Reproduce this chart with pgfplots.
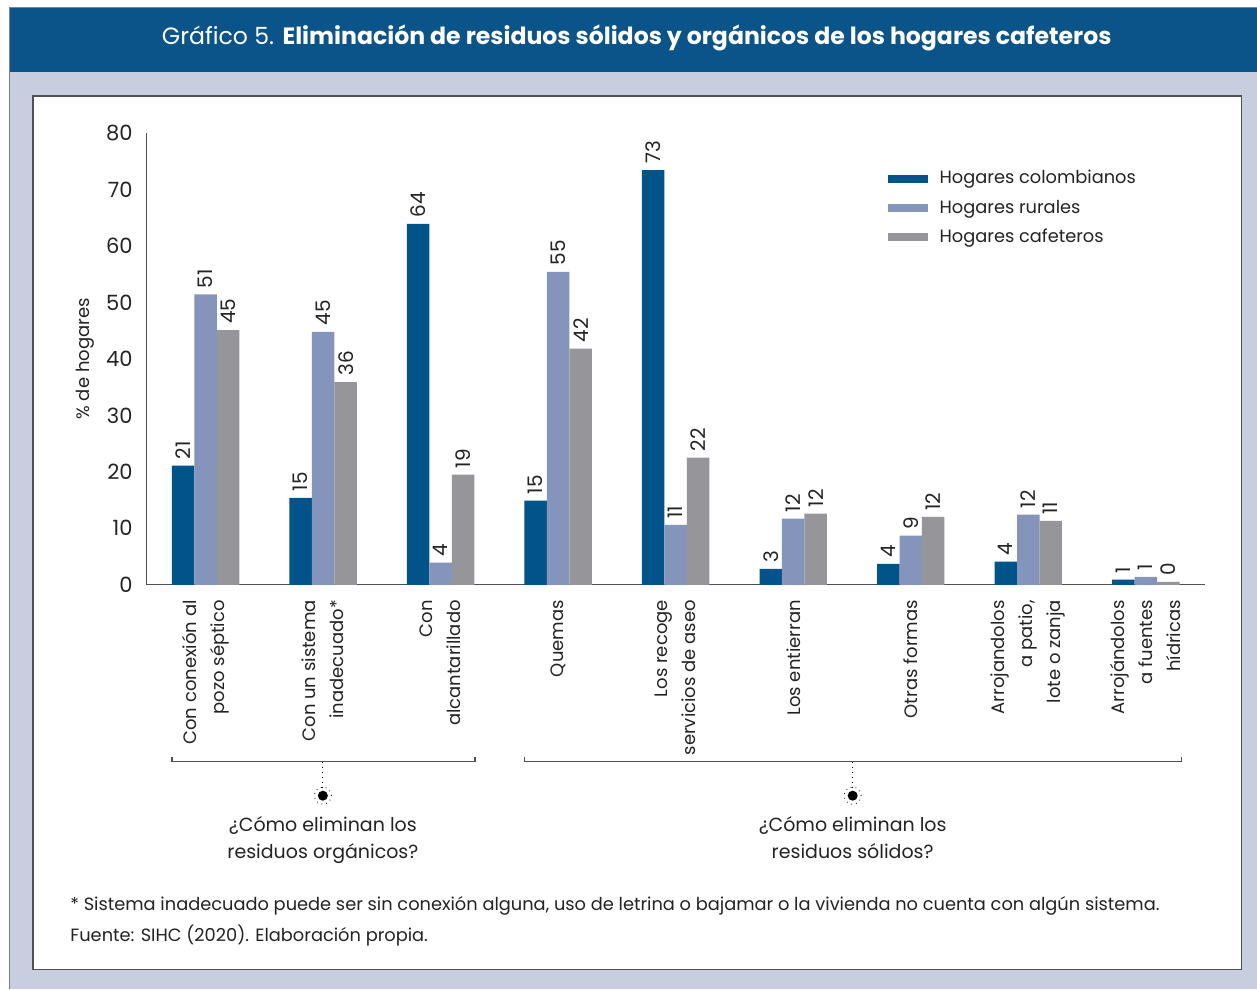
\documentclass[border=0pt]{standalone}
\usepackage{fontspec}
\setmainfont{Poppins}
\usepackage{pgfplots}
\pgfplotsset{compat=1.18}
\definecolor{barA}{RGB}{0,84,138}
\definecolor{barB}{RGB}{133,148,186}
\definecolor{barC}{RGB}{150,150,154}
\definecolor{titlebg}{RGB}{11,84,137}
\definecolor{panelbg}{RGB}{200,205,224}
\definecolor{axisgray}{RGB}{80,80,80}
\definecolor{txt}{RGB}{35,35,35}
\begin{document}
\color{txt}
\begin{tikzpicture}
% marco (coordenadas en px de la imagen, origen en la esquina del eje)
\begin{scope}[x=0.5pt,y=0.5pt,shift={(-73.5pt,-202pt)}]
\fill[white] (0,0) rectangle (1257,989);
\fill[panelbg] (10,0) rectangle (1257,917);
\fill[titlebg] (10,917) rectangle (1257,981);
\draw[gray, line width=0.5pt] (10,0) -- (10,981) -- (1257,981);
\filldraw[fill=white, draw=axisgray, line width=0.6pt] (33,19) rectangle (1242,893);
\node[white, font=\fontsize{11.8}{14}\selectfont] at (637,951)
  {Gráfico 5. \textbf{Eliminación de residuos sólidos y orgánicos de los hogares cafeteros}};
\end{scope}

\begin{axis}[
  at={(0,0)}, anchor=south west, scale only axis,
  width=529pt, height=226pt,
  ybar=0pt, bar width=11.25pt,
  xmin=-0.5, xmax=8.5, ymin=0, ymax=80,
  enlargelimits=false,
  axis x line*=bottom, axis y line*=left,
  axis line style={draw=axisgray, line width=0.5pt},
  major tick length=0pt,
  ytick={0,10,...,80},
  /pgf/number format/assume math mode=true,
  yticklabel style={inner sep=0pt, font=\fontsize{10.5}{12}\selectfont},
  yticklabel shift=7pt,
  xtick=data,
  xticklabels={{Con conexión al\\pozo séptico},{Con un sistema\\inadecuado*},{Con\\alcantarillado},
    {Quemas},{Los recoge\\servicios de aseo},{Los entierran},{Otras formas},
    {Arrojandolos\\a patio,\\lote o zanja},{Arrojándolos\\a fuentes\\hídricas}},
  xticklabel style={rotate=90, anchor=east, align=right, inner sep=0pt,
    font=\fontsize{9}{14}\selectfont},
  xticklabel shift=7.5pt,
  every axis y label/.style={at={(axis description cs:-0.0586,0.5)}, rotate=90, anchor=center,
    font=\fontsize{9}{12}\selectfont},
  ylabel={\% de hogares},
  point meta=explicit symbolic,
  nodes near coords,
  every node near coord/.append style={rotate=90, anchor=west, inner sep=3pt,
    font=\fontsize{10}{12}\selectfont, text=txt},
  legend style={at={(0.700,0.9226)}, anchor=north west, draw=none, fill=none,
    inner sep=0pt, row sep=4.5pt, font=\fontsize{8.9}{12}\selectfont,
    nodes={inner sep=1pt, anchor=west}},
  legend cell align=left,
  legend image code/.code={\fill[#1] (0pt,-2pt) rectangle (20pt,2pt);},
  /tikz/every odd column/.append style={column sep=5pt},
]
\addplot[fill=barA, draw=none] coordinates {
  (0,21.1)[21] (1,15.4)[15] (2,63.9)[64] (3,14.9)[15] (4,73.4)[73]
  (5,2.8)[3] (6,3.7)[4] (7,4.1)[4] (8,0.9)[1]};
\addplot[fill=barB, draw=none] coordinates {
  (0,51.4)[51] (1,44.8)[45] (2,3.9)[4] (3,55.4)[55] (4,10.6)[11]
  (5,11.7)[12] (6,8.7)[9] (7,12.4)[12] (8,1.4)[1]};
\addplot[fill=barC, draw=none] coordinates {
  (0,45.1)[45] (1,35.9)[36] (2,19.5)[19] (3,41.8)[42] (4,22.5)[22]
  (5,12.6)[12] (6,12.0)[12] (7,11.3)[11] (8,0.5)[0]};
\legend{Hogares colombianos, Hogares rurales, Hogares cafeteros}
\end{axis}

\begin{scope}[x=0.5pt,y=0.5pt,shift={(-73.5pt,-202pt)}]
% llaves de agrupación
\draw[axisgray, line width=0.7pt] (172,232) -- (172,227) -- (475,227) -- (475,232);
\draw[axisgray, line width=0.7pt] (525,232) -- (525,227) -- (1182,227) -- (1182,232);
\foreach \cx in {323,853} {
  \draw[black, dotted, line width=0.5pt] (\cx,227) -- (\cx,201);
  \fill[black] (\cx,193) circle (5);
  \draw[black, dotted, line width=0.4pt] (\cx,193) circle (8.5);
}
\node[anchor=north, inner sep=0pt, align=center, font=\fontsize{9.5}{13.5}\selectfont] at (323,173)
  {¿Cómo eliminan los\\residuos orgánicos?};
\node[anchor=north, inner sep=0pt, align=center, font=\fontsize{9.5}{13.5}\selectfont] at (853,173)
  {¿Cómo eliminan los\\residuos sólidos?};
% notas
\node[anchor=west, inner sep=0pt, font=\fontsize{8.9}{15}\selectfont] at (70,83)
  {* Sistema inadecuado puede ser sin conexión alguna, uso de letrina o bajamar o la vivienda no cuenta con algún sistema.};
\node[anchor=west, inner sep=0pt, font=\fontsize{8.9}{15}\selectfont] at (70,53)
  {Fuente: SIHC (2020). Elaboración propia.};
\end{scope}
\end{tikzpicture}
\end{document}
